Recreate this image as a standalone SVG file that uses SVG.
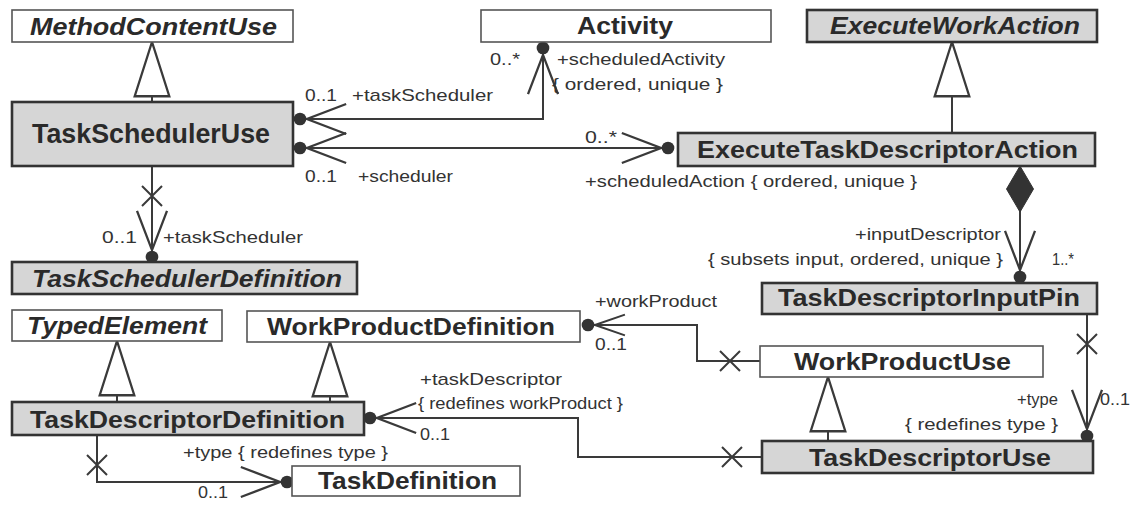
<svg xmlns="http://www.w3.org/2000/svg" width="1142" height="509" viewBox="0 0 1142 509">
<style>
.bw{fill:#fff;stroke:#555;stroke-width:1.6}
.bg{fill:#d6d6d6;stroke:#333;stroke-width:2.6}
.t{font-family:"Liberation Sans",Arial,sans-serif;font-weight:bold;font-size:24px;fill:#2a2a2a}
.i{font-style:italic}
.l{font-family:"Liberation Sans",Arial,sans-serif;font-size:17px;fill:#333}
.c{fill:none;stroke:#3a3a3a;stroke-width:2}
</style>
<defs>
<marker id="gen" markerUnits="userSpaceOnUse" markerWidth="60" markerHeight="60" viewBox="-50 -20 52 40" refX="0" refY="0" orient="auto" overflow="visible">
<path d="M0,0 L-47,-15 L-47,15 Z" fill="#fff" stroke="#3a3a3a" stroke-width="2"/>
</marker>
<marker id="nav" markerUnits="userSpaceOnUse" markerWidth="60" markerHeight="60" viewBox="-50 -20 52 40" refX="0" refY="0" orient="auto-start-reverse" overflow="visible">
<path d="M-40,-13 L-6,0 L-40,13" fill="none" stroke="#3a3a3a" stroke-width="2"/>
<circle cx="0" cy="0" r="5.5" fill="#333"/>
</marker>
<marker id="navs" markerUnits="userSpaceOnUse" markerWidth="60" markerHeight="60" viewBox="-50 -20 52 40" refX="0" refY="0" orient="auto-start-reverse" overflow="visible">
<path d="M-32,-9 L-6,0 L-32,9" fill="none" stroke="#3a3a3a" stroke-width="1.8"/>
<circle cx="0" cy="0" r="5.5" fill="#333"/>
</marker>
<marker id="nonnav" markerUnits="userSpaceOnUse" markerWidth="60" markerHeight="60" viewBox="-10 -20 60 40" refX="0" refY="0" orient="auto" overflow="visible">
<path d="M20,-10 L40,10 M20,10 L40,-10" fill="none" stroke="#3a3a3a" stroke-width="2"/>
</marker>
<marker id="comp" markerUnits="userSpaceOnUse" markerWidth="60" markerHeight="60" viewBox="-5 -20 60 40" refX="0" refY="0" orient="auto" overflow="visible">
<path d="M0,0 L23,-13.5 L46,0 L23,13.5 Z" fill="#333" stroke="#333" stroke-width="1"/>
</marker>
</defs>

<g id="connectors">
<path class="c" d="M152,102 L152,42" marker-end="url(#gen)"/>
<path class="c" d="M952,133 L952,42" marker-end="url(#gen)"/>
<path class="c" d="M117,402 L117,341" marker-end="url(#gen)"/>
<path class="c" d="M330,402 L330,342" marker-end="url(#gen)"/>
<path class="c" d="M828,441 L828,377" marker-end="url(#gen)"/>
<path class="c" d="M300,119 L543,119 L543,48" marker-start="url(#nav)" marker-end="url(#nav)"/>
<path class="c" d="M300,148 L668,148" marker-start="url(#nav)" marker-end="url(#nav)"/>
<path class="c" d="M152,166 L152,257" marker-start="url(#nonnav)" marker-end="url(#nav)"/>
<path class="c" d="M1020,166 L1020,277" marker-start="url(#comp)" marker-end="url(#nav)"/>
<path class="c" d="M1087,314 L1087,436" marker-start="url(#nonnav)" marker-end="url(#nav)"/>
<path class="c" d="M760,361 L697,361 L697,325 L588,325" marker-start="url(#nonnav)" marker-end="url(#navs)"/>
<path class="c" d="M762,457 L578,457 L578,418 L370,418" marker-start="url(#nonnav)" marker-end="url(#nav)"/>
<path class="c" d="M97,435 L97,482 L287,482" marker-start="url(#nonnav)" marker-end="url(#nav)"/>
</g>

<g id="labels">
<text class="l" x="490" y="65" textLength="30" lengthAdjust="spacingAndGlyphs">0..*</text>
<text class="l" x="557" y="65" textLength="168" lengthAdjust="spacingAndGlyphs">+scheduledActivity</text>
<text class="l" x="552" y="90" textLength="171" lengthAdjust="spacingAndGlyphs">{ ordered, unique }</text>
<text class="l" x="305" y="101" textLength="32" lengthAdjust="spacingAndGlyphs">0..1</text>
<text class="l" x="352" y="101" textLength="141" lengthAdjust="spacingAndGlyphs">+taskScheduler</text>
<text class="l" x="585" y="143" textLength="32" lengthAdjust="spacingAndGlyphs">0..*</text>
<text class="l" x="305" y="182" textLength="32" lengthAdjust="spacingAndGlyphs">0..1</text>
<text class="l" x="358" y="182" textLength="95" lengthAdjust="spacingAndGlyphs">+scheduler</text>
<text class="l" x="585" y="187" textLength="332" lengthAdjust="spacingAndGlyphs">+scheduledAction { ordered, unique }</text>
<text class="l" x="102" y="243" textLength="35" lengthAdjust="spacingAndGlyphs">0..1</text>
<text class="l" x="163" y="243" textLength="140" lengthAdjust="spacingAndGlyphs">+taskScheduler</text>
<text class="l" x="855" y="240" textLength="146" lengthAdjust="spacingAndGlyphs">+inputDescriptor</text>
<text class="l" x="708" y="265" textLength="295" lengthAdjust="spacingAndGlyphs">{ subsets input, ordered, unique }</text>
<text class="l" x="1052" y="265" textLength="22" lengthAdjust="spacingAndGlyphs">1..*</text>
<text class="l" x="595" y="307" textLength="122" lengthAdjust="spacingAndGlyphs">+workProduct</text>
<text class="l" x="595" y="350" textLength="32" lengthAdjust="spacingAndGlyphs">0..1</text>
<text class="l" x="420" y="385" textLength="142" lengthAdjust="spacingAndGlyphs">+taskDescriptor</text>
<text class="l" x="418" y="409" textLength="205" lengthAdjust="spacingAndGlyphs">{ redefines workProduct }</text>
<text class="l" x="420" y="440" textLength="30" lengthAdjust="spacingAndGlyphs">0..1</text>
<text class="l" x="1017" y="405" textLength="41" lengthAdjust="spacingAndGlyphs">+type</text>
<text class="l" x="905" y="430" textLength="153" lengthAdjust="spacingAndGlyphs">{ redefines type }</text>
<text class="l" x="1100" y="405" textLength="30" lengthAdjust="spacingAndGlyphs">0..1</text>
<text class="l" x="183" y="458" textLength="205" lengthAdjust="spacingAndGlyphs">+type { redefines type }</text>
<text class="l" x="198" y="498" textLength="30" lengthAdjust="spacingAndGlyphs">0..1</text>
</g>

<g id="MethodContentUse"><rect class="bw" x="12" y="10" width="281" height="32"/><text class="t i" x="30" y="35" textLength="247" lengthAdjust="spacingAndGlyphs">MethodContentUse</text></g>
<g id="Activity"><rect class="bw" x="481" y="10" width="290" height="32"/><text class="t" x="577" y="34" textLength="96" lengthAdjust="spacingAndGlyphs">Activity</text></g>
<g id="ExecuteWorkAction"><rect class="bg" x="807" y="10" width="290" height="32"/><text class="t i" x="830" y="34" textLength="250" lengthAdjust="spacingAndGlyphs">ExecuteWorkAction</text></g>
<g id="TaskSchedulerUse"><rect class="bg" x="12" y="102" width="281" height="64"/><text class="t" style="font-size:27px" x="32" y="143" textLength="238" lengthAdjust="spacingAndGlyphs">TaskSchedulerUse</text></g>
<g id="ExecuteTaskDescriptorAction"><rect class="bg" x="678" y="133" width="417" height="33"/><text class="t" x="697" y="158" textLength="381" lengthAdjust="spacingAndGlyphs">ExecuteTaskDescriptorAction</text></g>
<g id="TaskSchedulerDefinition"><rect class="bg" x="12" y="262" width="345" height="32"/><text class="t i" x="32" y="287" textLength="310" lengthAdjust="spacingAndGlyphs">TaskSchedulerDefinition</text></g>
<g id="TypedElement"><rect class="bw" x="12" y="310" width="210" height="31"/><text class="t i" x="27" y="334" textLength="180" lengthAdjust="spacingAndGlyphs">TypedElement</text></g>
<g id="WorkProductDefinition"><rect class="bw" x="247" y="311" width="333" height="31"/><text class="t" x="267" y="335" textLength="288" lengthAdjust="spacingAndGlyphs">WorkProductDefinition</text></g>
<g id="TaskDescriptorDefinition"><rect class="bg" x="12" y="402" width="352" height="33"/><text class="t" x="30" y="428" textLength="315" lengthAdjust="spacingAndGlyphs">TaskDescriptorDefinition</text></g>
<g id="TaskDefinition"><rect class="bw" x="292" y="466" width="228" height="30"/><text class="t" x="318" y="489" textLength="179" lengthAdjust="spacingAndGlyphs">TaskDefinition</text></g>
<g id="TaskDescriptorInputPin"><rect class="bg" x="762" y="283" width="335" height="31"/><text class="t" x="778" y="306" textLength="302" lengthAdjust="spacingAndGlyphs">TaskDescriptorInputPin</text></g>
<g id="WorkProductUse"><rect class="bw" x="760" y="346" width="283" height="31"/><text class="t" x="794" y="370" textLength="217" lengthAdjust="spacingAndGlyphs">WorkProductUse</text></g>
<g id="TaskDescriptorUse"><rect class="bg" x="762" y="441" width="331" height="32"/><text class="t" x="809" y="466" textLength="242" lengthAdjust="spacingAndGlyphs">TaskDescriptorUse</text></g>
</svg>
